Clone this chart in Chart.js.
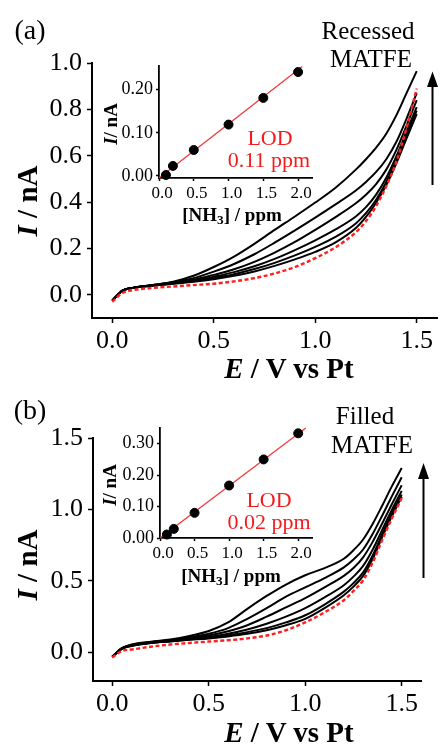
<!DOCTYPE html>
<html>
<head>
<meta charset="utf-8">
<script src="https://cdn.jsdelivr.net/npm/chart.js@4.4.1/dist/chart.umd.min.js"></script>
<style>
  html, body { margin: 0; padding: 0; background: #fff; }
  #fig { position: relative; width: 441px; height: 746px; overflow: hidden; background: #fff;
         font-family: 'Liberation Serif', 'Times New Roman', serif; color: #000; }
  #fig canvas { position: absolute; }
  .lbl { position: absolute; white-space: nowrap; line-height: 1; transform: translate(-50%, -50%); }
  .rot { transform: translate(-50%, -50%) rotate(-90deg); }
  .b { font-weight: bold; }
  .red { color: #f21c1c; }
  sub { font-size: 70%; vertical-align: -0.25em; line-height: 0; }
</style>
</head>
<body>
<div id="fig">
  <canvas id="mainA" width="441" height="372" style="left:0;top:0;width:441px;height:372px"></canvas>
  <canvas id="mainB" width="441" height="374" style="left:0;top:372px;width:441px;height:374px"></canvas>
  <canvas id="insetA" width="250" height="170" style="left:80px;top:40px;width:250px;height:170px"></canvas>
  <canvas id="insetB" width="250" height="170" style="left:80px;top:400px;width:250px;height:170px"></canvas>

  <svg width="441" height="746" style="position:absolute;left:0;top:0">
    <line x1="432.5" y1="185" x2="432.5" y2="84" stroke="#000" stroke-width="2"/>
    <polygon points="432.5,71.5 427,87 438,87" fill="#000"/>
    <line x1="423.5" y1="578" x2="423.5" y2="476" stroke="#000" stroke-width="2"/>
    <polygon points="423.5,463 418,479 429,479" fill="#000"/>
  </svg>

  <!-- panel (a) -->
  <div class="lbl" style="left:30px;top:30px;font-size:28px">(a)</div>
  <div class="lbl" style="left:368px;top:30px;font-size:25px">Recessed</div>
  <div class="lbl" style="left:371px;top:58px;font-size:25px">MATFE</div>
  <div class="lbl b rot" style="left:27px;top:201px;font-size:29px"><i>I</i> / nA</div>
  <div class="lbl b" style="left:289px;top:368px;font-size:29px"><i>E</i> / V vs Pt</div>
  <div class="lbl b rot" style="left:110px;top:124px;font-size:19px"><i>I</i>/ nA</div>
  <div class="lbl b" style="left:232px;top:214px;font-size:19px">[NH<sub>3</sub>] / ppm</div>
  <div class="lbl red" style="left:270px;top:138px;font-size:22px">LOD</div>
  <div class="lbl red" style="left:269px;top:160px;font-size:22px">0.11 ppm</div>

  <!-- panel (b) -->
  <div class="lbl" style="left:30px;top:410px;font-size:28px">(b)</div>
  <div class="lbl" style="left:365px;top:415px;font-size:25px">Filled</div>
  <div class="lbl" style="left:372px;top:444px;font-size:25px">MATFE</div>
  <div class="lbl b rot" style="left:27px;top:565px;font-size:29px"><i>I</i> / nA</div>
  <div class="lbl b" style="left:289px;top:732px;font-size:29px"><i>E</i> / V vs Pt</div>
  <div class="lbl b rot" style="left:109px;top:485px;font-size:19px"><i>I</i>/ nA</div>
  <div class="lbl b" style="left:231px;top:575px;font-size:19px">[NH<sub>3</sub>] / ppm</div>
  <div class="lbl red" style="left:269px;top:500px;font-size:22px">LOD</div>
  <div class="lbl red" style="left:269px;top:522px;font-size:22px">0.02 ppm</div>
</div>

<script>
// potential grid shared by every sweep (V vs Pt)
const potential = [0, 0.05, 0.1, 0.2, 0.3, 0.4, 0.5, 0.6, 0.7, 0.8, 0.9, 1.0, 1.1, 1.2, 1.25, 1.3, 1.35, 1.4, 1.45, 1.5];

// recessed MATFE, current in nA, lowest to highest NH3
const recessed1 = [-0.025, 0.018, 0.030, 0.039, 0.048, 0.056, 0.067, 0.082, 0.101, 0.125, 0.153, 0.185, 0.226, 0.288, 0.336, 0.397, 0.473, 0.568, 0.675, 0.780];
const recessed2 = [-0.025, 0.018, 0.030, 0.040, 0.049, 0.058, 0.072, 0.089, 0.111, 0.138, 0.170, 0.207, 0.250, 0.308, 0.352, 0.410, 0.487, 0.582, 0.690, 0.795];
const recessed3 = [-0.025, 0.018, 0.030, 0.041, 0.050, 0.060, 0.078, 0.098, 0.123, 0.155, 0.193, 0.235, 0.282, 0.338, 0.378, 0.432, 0.505, 0.598, 0.705, 0.810];
const recessed4 = [-0.025, 0.018, 0.030, 0.042, 0.052, 0.065, 0.086, 0.110, 0.142, 0.182, 0.228, 0.280, 0.335, 0.395, 0.432, 0.478, 0.540, 0.625, 0.730, 0.840];
const recessed5 = [-0.025, 0.018, 0.030, 0.042, 0.054, 0.072, 0.100, 0.133, 0.175, 0.225, 0.278, 0.333, 0.390, 0.450, 0.487, 0.530, 0.585, 0.660, 0.760, 0.870];
const recessed6 = [-0.025, 0.018, 0.030, 0.042, 0.056, 0.082, 0.120, 0.165, 0.220, 0.280, 0.338, 0.398, 0.462, 0.540, 0.585, 0.635, 0.695, 0.775, 0.870, 0.965];
const recessedBlank = [-0.030, 0.008, 0.020, 0.030, 0.036, 0.042, 0.048, 0.058, 0.072, 0.092, 0.120, 0.158, 0.205, 0.270, 0.318, 0.383, 0.468, 0.575, 0.720, 0.890];

// filled MATFE
const filled1 = [-0.030, 0.025, 0.045, 0.065, 0.077, 0.088, 0.098, 0.112, 0.130, 0.155, 0.190, 0.235, 0.310, 0.400, 0.460, 0.535, 0.655, 0.810, 0.955, 1.090];
const filled2 = [-0.030, 0.026, 0.046, 0.066, 0.078, 0.090, 0.102, 0.120, 0.142, 0.170, 0.210, 0.260, 0.335, 0.425, 0.485, 0.560, 0.680, 0.830, 0.975, 1.105];
const filled3 = [-0.030, 0.027, 0.048, 0.068, 0.080, 0.093, 0.108, 0.130, 0.160, 0.200, 0.250, 0.310, 0.385, 0.470, 0.530, 0.605, 0.720, 0.860, 1.000, 1.130];
const filled4 = [-0.030, 0.028, 0.050, 0.070, 0.083, 0.098, 0.118, 0.148, 0.190, 0.250, 0.315, 0.380, 0.455, 0.535, 0.590, 0.665, 0.775, 0.905, 1.040, 1.170];
const filled5 = [-0.030, 0.030, 0.052, 0.072, 0.086, 0.105, 0.130, 0.170, 0.235, 0.310, 0.390, 0.455, 0.520, 0.595, 0.650, 0.720, 0.830, 0.960, 1.095, 1.225];
const filled6 = [-0.030, 0.030, 0.055, 0.075, 0.090, 0.115, 0.150, 0.210, 0.305, 0.395, 0.475, 0.540, 0.590, 0.655, 0.715, 0.790, 0.900, 1.030, 1.165, 1.290];
const filledBlank = [-0.035, 0.010, 0.020, 0.040, 0.055, 0.066, 0.076, 0.085, 0.098, 0.118, 0.155, 0.210, 0.280, 0.365, 0.430, 0.505, 0.630, 0.790, 0.940, 1.080];

// calibration insets
const nh3 = [0.1, 0.2, 0.5, 1.0, 1.5, 2.0];
const recessedSignal = [0.002, 0.023, 0.060, 0.119, 0.181, 0.241];
const filledSignal = [0.011, 0.029, 0.080, 0.167, 0.250, 0.333];
const recessedFitX = [0, 2.06];
const recessedFitY = [-0.005, 0.254];
const filledFitX = [0, 2.11];
const filledFitY = [0, 0.35];

// tick labels
const eTicks = [0, 0.5, 1.0, 1.5];
const recessedTicks = [0, 0.2, 0.4, 0.6, 0.8, 1.0];
const filledTicks = [0, 0.5, 1.0, 1.5];
const nh3Ticks = [0, 0.5, 1.0, 1.5, 2.0];
const recessedInsetTicks = [0, 0.1, 0.2];
const filledInsetTicks = [0, 0.1, 0.2, 0.3];

const serif = "'Liberation Serif', 'Times New Roman', serif";

function xy(xs, ys) {
  return xs.map((x, i) => ({ x: x, y: ys[i] }));
}

function axis(opts) {
  return {
    type: 'linear',
    min: opts.min,
    max: opts.max,
    afterFit: opts.fit,
    afterBuildTicks: s => { s.ticks = opts.ticks.map(v => ({ value: v })); },
    grid: { drawOnChartArea: false, drawTicks: true, tickLength: opts.tickLength, tickWidth: 1.5, tickColor: '#000' },
    border: { display: true, color: '#000', width: opts.border },
    ticks: {
      color: '#000',
      autoSkip: false,
      maxRotation: 0,
      padding: opts.padding,
      labelOffset: opts.labelOffset || 0,
      font: { family: serif, size: opts.size },
      callback: v => v.toFixed(opts.digits)
    }
  };
}

function sweepChart(id, curves, blank, yTicks, yMin, yMax, box) {
  const datasets = curves.map(c => ({
    data: xy(potential, c),
    borderColor: '#000',
    borderWidth: 2,
    pointRadius: 0,
    cubicInterpolationMode: 'monotone',
    order: 1
  }));
  // blank sweep, dashed red, drawn on top
  datasets.push({
    data: xy(potential, blank),
    borderColor: '#ff1f1f',
    borderWidth: 2.4,
    borderDash: [4, 2.5],
    pointRadius: 0,
    cubicInterpolationMode: 'monotone',
    order: 0
  });

  return new Chart(document.getElementById(id), {
    type: 'line',
    data: { datasets: datasets },
    options: {
      responsive: false,
      animation: false,
      devicePixelRatio: 1,
      layout: { padding: { top: box.top, right: box.right, left: 0, bottom: 0 } },
      plugins: { legend: { display: false }, tooltip: { enabled: false } },
      scales: {
        x: axis({ min: -0.1, max: 1.6, ticks: eTicks, digits: 1, size: 26, tickLength: 5, padding: 3, border: 2,
                  fit: s => { s.height = box.xh; } }),
        y: axis({ min: yMin, max: yMax, ticks: yTicks, digits: 1, size: 26, tickLength: 5, padding: 5, border: 2,
                  fit: s => { s.width = box.yw; } })
      }
    }
  });
}

function insetChart(id, signal, fitX, fitY, yTicks, yMin, yMax, box) {
  return new Chart(document.getElementById(id), {
    type: 'scatter',
    data: {
      datasets: [
        { data: xy(nh3, signal), backgroundColor: '#000', borderColor: '#000', pointRadius: 4.5, clip: false, order: 0 },
        { data: xy(fitX, fitY), showLine: true, borderColor: '#f23a3a', borderWidth: 1.3, pointRadius: 0, clip: false, order: 1 }
      ]
    },
    options: {
      responsive: false,
      animation: false,
      devicePixelRatio: 1,
      layout: { padding: { top: box.top, right: box.right, left: 0, bottom: 0 } },
      plugins: { legend: { display: false }, tooltip: { enabled: false } },
      scales: {
        x: axis({ min: 0, max: 2.2, ticks: nh3Ticks, digits: 1, size: 17, tickLength: 3, padding: 2, border: 1.8,
                  labelOffset: 3, fit: s => { s.height = box.xh; } }),
        y: axis({ min: yMin, max: yMax, ticks: yTicks, digits: 2, size: 18, tickLength: 3, padding: 3, border: 1.8,
                  fit: s => { s.width = box.yw; } })
      }
    }
  });
}

sweepChart('mainA', [recessed1, recessed2, recessed3, recessed4, recessed5, recessed6], recessedBlank,
  recessedTicks, -0.1, 1.0, { top: 63, right: 4, yw: 92, xh: 54 });
sweepChart('mainB', [filled1, filled2, filled3, filled4, filled5, filled6], filledBlank,
  filledTicks, -0.2, 1.5, { top: 66, right: 20, yw: 93, xh: 65 });

insetChart('insetA', recessedSignal, recessedFitX, recessedFitY, recessedInsetTicks, -0.005, 0.255,
  { top: 26, right: 18, yw: 79, xh: 32 });
insetChart('insetB', filledSignal, filledFitX, filledFitY, filledInsetTicks, 0, 0.35,
  { top: 28, right: 18, yw: 80, xh: 32 });
</script>
</body>
</html>
